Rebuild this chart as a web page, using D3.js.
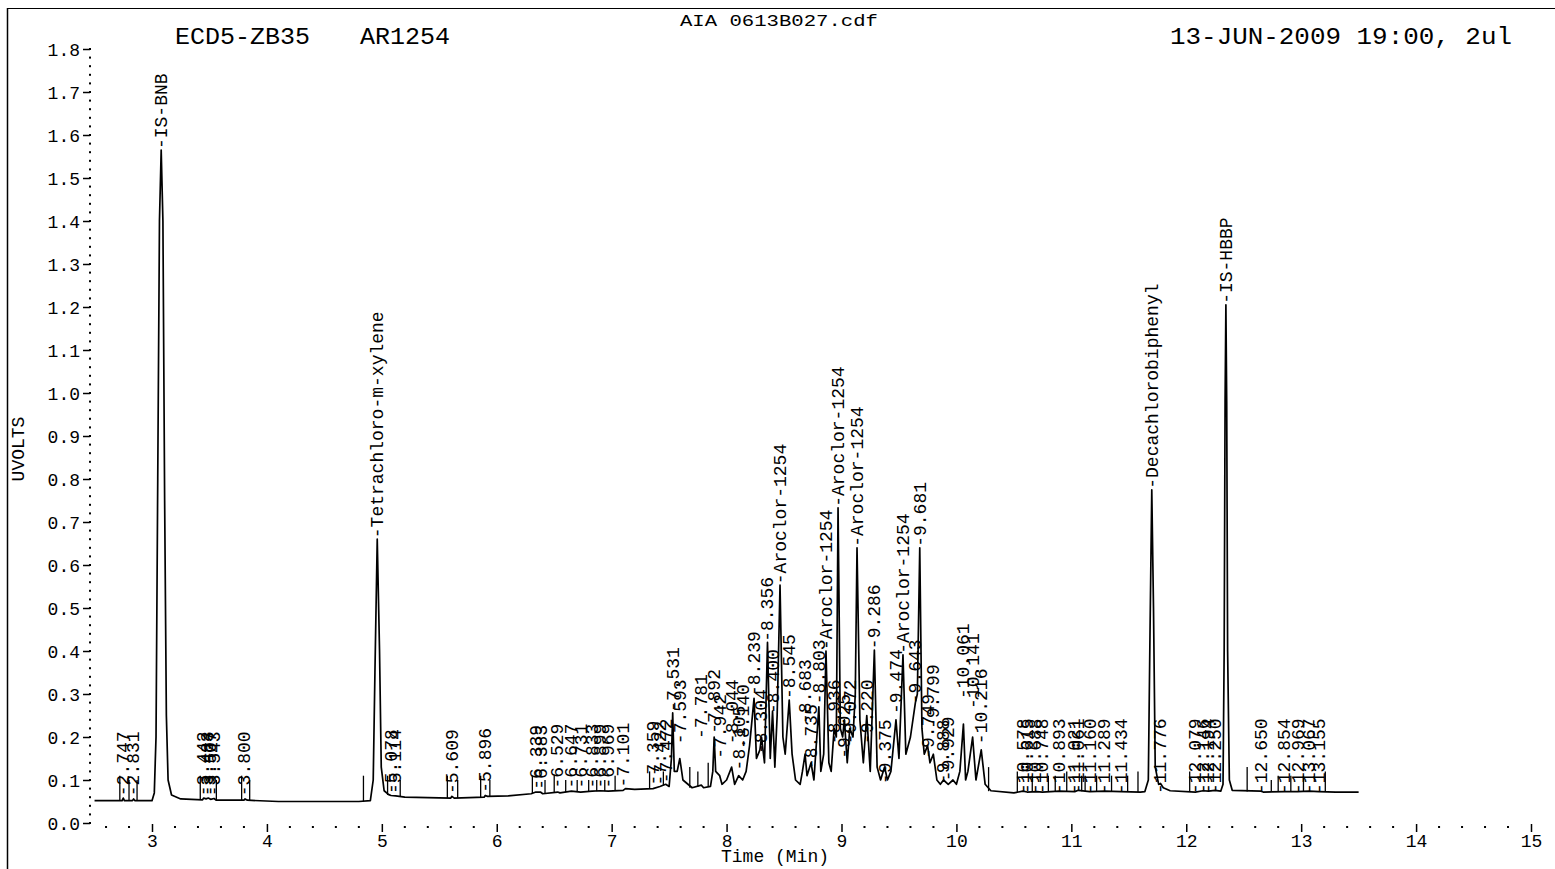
<!DOCTYPE html>
<html><head><meta charset="utf-8">
<script src="https://cdn.jsdelivr.net/npm/d3@7"></script>
<style>
body{margin:0;background:#fff}
svg text{font-family:"Liberation Mono","DejaVu Sans Mono",monospace;fill:#000}
</style></head>
<body><svg id="c" width="1555" height="869"></svg>
<script>
// ---------- data ----------
const X_TICKS = [3,4,5,6,7,8,9,10,11,12,13,14,15];
const Y_TICKS = [0.0,0.1,0.2,0.3,0.4,0.5,0.6,0.7,0.8,0.9,1.0,1.1,1.2,1.3,1.4,1.5,1.6,1.7,1.8];
const TITLE = "AIA  0613B027.cdf";
const HEAD_LEFT_1 = "ECD5-ZB35";
const HEAD_LEFT_2 = "AR1254";
const HEAD_RIGHT = "13-JUN-2009 19:00, 2ul";
const Y_LABEL = "UVOLTS";
const X_LABEL = "Time (Min)";

// chromatogram trace: [time (min), signal (UVOLTS)]
const TRACE_T = [2.50,2.74,2.75,2.76,2.83,2.84,2.85,3.00,3.02,3.035,3.05,3.065,3.08,3.095,3.11,3.125,3.14,3.17,3.25,3.44,3.45,3.47,3.49,3.51,3.54,3.56,3.80,3.81,3.83,4.10,4.80,4.90,4.925,4.94,4.96,4.98,4.995,5.02,5.06,5.08,5.12,5.20,5.60,5.61,5.63,5.89,5.90,5.92,6.10,6.30,6.34,6.38,6.40,6.53,6.55,6.65,6.73,6.83,6.90,6.97,7.10,7.12,7.20,7.36,7.42,7.47,7.50,7.52,7.531,7.545,7.57,7.593,7.62,7.70,7.78,7.80,7.86,7.88,7.892,7.905,7.94,7.96,8.00,8.044,8.07,8.105,8.14,8.17,8.20,8.239,8.26,8.29,8.304,8.33,8.356,8.38,8.40,8.42,8.44,8.465,8.49,8.51,8.545,8.57,8.60,8.64,8.66,8.683,8.70,8.735,8.76,8.803,8.82,8.845,8.865,8.89,8.91,8.936,8.955,8.97,8.99,9.01,9.025,9.05,9.072,9.10,9.12,9.135,9.16,9.19,9.22,9.25,9.286,9.31,9.34,9.375,9.40,9.43,9.474,9.50,9.535,9.56,9.60,9.643,9.66,9.681,9.70,9.72,9.749,9.77,9.799,9.83,9.86,9.888,9.929,9.97,10.00,10.03,10.061,10.08,10.10,10.141,10.17,10.216,10.25,10.30,10.50,10.578,10.615,10.70,10.748,10.893,11.03,11.061,11.16,11.289,11.434,11.60,11.64,11.67,11.685,11.70,11.715,11.73,11.76,11.776,11.80,11.86,12.079,12.146,12.194,12.25,12.30,12.32,12.33,12.338,12.345,12.352,12.36,12.375,12.40,12.65,12.67,12.854,12.969,13.067,13.155,13.30,13.50];
const TRACE_V = [0.052,0.052,0.058,0.052,0.052,0.056,0.052,0.052,0.070,0.200,0.800,1.400,1.565,1.400,0.750,0.250,0.100,0.065,0.056,0.054,0.058,0.056,0.058,0.055,0.057,0.053,0.053,0.056,0.053,0.050,0.050,0.052,0.100,0.350,0.660,0.400,0.130,0.075,0.066,0.064,0.063,0.060,0.058,0.062,0.058,0.060,0.064,0.062,0.063,0.068,0.072,0.072,0.068,0.072,0.070,0.074,0.072,0.074,0.075,0.074,0.076,0.080,0.078,0.080,0.085,0.090,0.085,0.150,0.256,0.120,0.120,0.150,0.100,0.082,0.088,0.082,0.085,0.120,0.200,0.120,0.110,0.090,0.100,0.130,0.090,0.110,0.100,0.120,0.180,0.290,0.150,0.170,0.200,0.140,0.420,0.150,0.260,0.130,0.250,0.553,0.200,0.160,0.286,0.160,0.100,0.090,0.120,0.160,0.110,0.140,0.100,0.270,0.120,0.160,0.400,0.140,0.120,0.220,0.200,0.733,0.220,0.200,0.240,0.140,0.220,0.200,0.300,0.640,0.240,0.140,0.250,0.120,0.402,0.130,0.100,0.130,0.100,0.120,0.240,0.150,0.391,0.160,0.200,0.280,0.300,0.640,0.220,0.160,0.180,0.140,0.160,0.100,0.090,0.100,0.090,0.100,0.090,0.120,0.230,0.100,0.120,0.200,0.100,0.170,0.090,0.075,0.070,0.074,0.072,0.073,0.072,0.074,0.073,0.076,0.073,0.074,0.073,0.072,0.073,0.100,0.450,0.775,0.500,0.130,0.090,0.092,0.082,0.075,0.072,0.075,0.074,0.076,0.074,0.090,0.400,0.980,1.205,0.980,0.400,0.100,0.076,0.074,0.072,0.073,0.073,0.074,0.073,0.072,0.072];

// peak annotations: [time, text, value where the label starts]
const PEAK_T = [3.08,4.96,11.70,12.345,2.747,2.831,3.442,3.483,3.507,3.543,3.800,5.078,5.114,5.609,5.896,6.339,6.383,6.529,6.647,6.731,6.833,6.899,6.969,7.101,7.359,7.422,7.472,7.531,7.593,7.781,7.892,7.942,8.044,8.105,8.140,8.239,8.304,8.356,8.400,8.465,8.545,8.683,8.735,8.803,8.865,8.936,8.97,9.025,9.072,9.135,9.220,9.286,9.375,9.474,9.535,9.643,9.681,9.749,9.799,9.888,9.929,10.061,10.141,10.216,10.578,10.615,10.688,10.748,10.893,11.021,11.061,11.160,11.289,11.434,11.776,12.079,12.146,12.194,12.250,12.650,12.854,12.969,13.067,13.155];
const PEAK_TEXT = ["IS-BNB","Tetrachloro-m-xylene","Decachlorobiphenyl","IS-HBBP","2.747","2.831","3.442","3.483","3.507","3.543","3.800","5.078","5.114","5.609","5.896","6.339","6.383","6.529","6.647","6.731","6.833","6.899","6.969","7.101","7.359","7.422","7.472","7.531","7.593","7.781","7.892","7.942","8.044","8.105","8.140","8.239","8.304","8.356","8.400","Aroclor-1254","8.545","8.683","8.735","8.803","Aroclor-1254","8.936","Aroclor-1254","9.025","9.072","Aroclor-1254","9.220","9.286","9.375","9.474","Aroclor-1254","9.643","9.681","9.749","9.799","9.888","9.929","10.061","10.141","10.216","10.578","10.615","10.688","10.748","10.893","11.021","11.061","11.160","11.289","11.434","11.776","12.079","12.146","12.194","12.250","12.650","12.854","12.969","13.067","13.155"];
const PEAK_V = [1.565,0.660,0.775,1.205,0.060,0.060,0.060,0.060,0.060,0.060,0.060,0.065,0.065,0.065,0.068,0.075,0.075,0.078,0.078,0.078,0.078,0.078,0.078,0.080,0.085,0.085,0.090,0.256,0.181,0.193,0.205,0.147,0.181,0.120,0.170,0.293,0.158,0.419,0.251,0.553,0.286,0.228,0.123,0.274,0.400,0.181,0.733,0.147,0.181,0.640,0.181,0.402,0.088,0.251,0.391,0.274,0.640,0.147,0.216,0.088,0.095,0.286,0.263,0.181,0.065,0.065,0.065,0.065,0.065,0.065,0.065,0.065,0.065,0.065,0.065,0.065,0.065,0.065,0.065,0.065,0.065,0.065,0.065,0.065];

// integration markers: [time, bottom value, top value]
const MARK_T = [2.72,2.80,2.87,3.42,3.56,3.78,3.85,4.84,5.05,5.16,5.57,5.66,5.86,5.94,6.31,6.42,6.50,6.60,6.70,6.80,6.87,6.94,7.03,7.33,7.45,7.68,7.75,7.84,10.28,10.53,10.66,10.80,10.86,10.96,11.09,11.12,11.22,11.35,11.49,11.58,12.03,12.53,12.74,12.80,12.91,13.02,13.21];
const MARK_B = [0.052,0.052,0.052,0.054,0.053,0.053,0.053,0.050,0.065,0.062,0.058,0.058,0.060,0.062,0.068,0.068,0.070,0.072,0.073,0.073,0.074,0.074,0.075,0.079,0.088,0.082,0.084,0.085,0.074,0.070,0.072,0.072,0.073,0.073,0.074,0.074,0.073,0.073,0.073,0.072,0.072,0.073,0.072,0.073,0.073,0.073,0.073];
const MARK_TOP = [0.11,0.10,0.10,0.11,0.10,0.11,0.10,0.11,0.11,0.10,0.11,0.10,0.11,0.10,0.11,0.10,0.11,0.10,0.10,0.10,0.10,0.10,0.11,0.12,0.12,0.13,0.12,0.14,0.13,0.12,0.11,0.11,0.11,0.12,0.11,0.11,0.11,0.11,0.11,0.12,0.12,0.13,0.10,0.11,0.11,0.11,0.12];

// ---------- drawing ----------
const svg = d3.select("#c");
const x = d3.scaleLinear().domain([3, 15]).range([152, 1531]);
const y = d3.scaleLinear().domain([0, 1.8]).range([823, 49]);
const AXIS_X = 90;

// frame
svg.append("line").attr("x1",7.5).attr("x2",7.5).attr("y1",8).attr("y2",869).attr("stroke","#000").attr("stroke-width",1.5);
svg.append("line").attr("x1",7).attr("x2",1555).attr("y1",8.5).attr("y2",8.5).attr("stroke","#000").attr("stroke-width",1.2);

// header texts
svg.append("text").attr("x",680).attr("y",26).attr("textLength",198).attr("lengthAdjust","spacingAndGlyphs").style("font-size","17px").text(TITLE);
svg.append("text").attr("x",175).attr("y",44).attr("textLength",135).attr("lengthAdjust","spacingAndGlyphs").style("font-size","24px").text(HEAD_LEFT_1);
svg.append("text").attr("x",360).attr("y",44).attr("textLength",90).attr("lengthAdjust","spacingAndGlyphs").style("font-size","24px").text(HEAD_LEFT_2);
svg.append("text").attr("x",1170).attr("y",44).attr("textLength",342).attr("lengthAdjust","spacingAndGlyphs").style("font-size","24px").text(HEAD_RIGHT);

// y axis: dotted spine, ticks, labels
const yDots = d3.range(0, 91).map(i => i * 0.02);
svg.append("g").selectAll("rect").data(yDots).join("rect")
  .attr("x", AXIS_X - 1).attr("y", d => y(d) - 1).attr("width", 2).attr("height", 2).attr("fill","#000");
const yAxis = d3.axisLeft(y).tickValues(Y_TICKS).tickSize(7).tickPadding(3).tickFormat(d3.format(".1f"));
const gy = svg.append("g").attr("transform", `translate(${AXIS_X},0)`).call(yAxis);
gy.select(".domain").remove();
gy.selectAll(".tick line").attr("stroke","#000").attr("stroke-width",1.5);
gy.selectAll(".tick text").style("font-size","18px").attr("font-family",null).attr("dy","0.35em");

svg.append("text").attr("transform",`translate(24,449) rotate(-90)`).attr("text-anchor","middle")
  .style("font-size","18px").text(Y_LABEL);

// x axis: minor dots, major ticks, labels
const xDots = d3.range(2.6, 15.01, 0.2).filter(d => Math.abs(d - Math.round(d)) > 0.01);
svg.append("g").selectAll("rect").data(xDots).join("rect")
  .attr("x", d => x(d) - 1).attr("y", 826).attr("width", 2).attr("height", 2).attr("fill","#000");
const xAxis = d3.axisBottom(x).tickValues(X_TICKS).tickSize(8).tickPadding(2).tickFormat(d3.format("d"));
const gx = svg.append("g").attr("transform","translate(0,824)").call(xAxis);
gx.select(".domain").remove();
gx.selectAll(".tick line").attr("stroke","#000").attr("stroke-width",1.5);
gx.selectAll(".tick text").style("font-size","18px").attr("font-family",null);

svg.append("text").attr("x",775).attr("y",862).attr("text-anchor","middle").style("font-size","18px").text(X_LABEL);

// markers
const marks = MARK_T.map((t,i)=>({t, b:MARK_B[i], top:MARK_TOP[i]}));
svg.append("g").selectAll("line").data(marks).join("line")
  .attr("x1",d=>x(d.t)).attr("x2",d=>x(d.t)).attr("y1",d=>y(d.b)).attr("y2",d=>y(d.top))
  .attr("stroke","#000").attr("stroke-width",1.3);

// trace
const trace = TRACE_T.map((t,i)=>[t, TRACE_V[i]]);
svg.append("path").datum(trace)
  .attr("d", d3.line().x(d=>x(d[0])).y(d=>y(d[1])))
  .attr("fill","none").attr("stroke","#000").attr("stroke-width",1.7).attr("stroke-linejoin","round");

// peak labels
const peaks = PEAK_T.map((t,i)=>({t, text:PEAK_TEXT[i], v:PEAK_V[i]}));
svg.append("g").selectAll("text").data(peaks).join("text")
  .attr("transform", d => `translate(${x(d.t)},${y(d.v) - 1}) rotate(-90)`)
  .attr("dy","0.33em").style("font-size","18px")
  .text(d => "-" + d.text);
</script></body></html>
